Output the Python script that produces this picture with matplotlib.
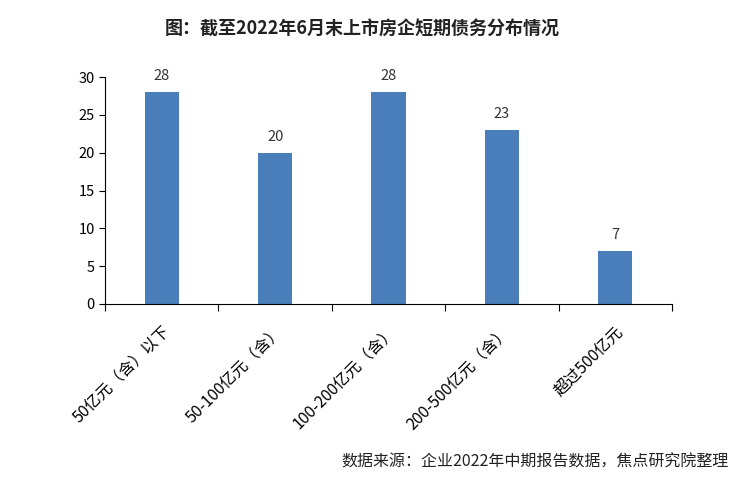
import matplotlib.pyplot as plt
import numpy as np

plt.rcParams['font.family'] = ['Noto Sans CJK SC', 'DejaVu Sans']

# data
categories = ['50亿元（含）以下', '50-100亿元（含）', '100-200亿元（含）', '200-500亿元（含）', '超过500亿元']
counts = [28, 20, 28, 23, 7]

fig = plt.figure(figsize=(7.4, 4.91), dpi=100)
ax = fig.add_axes([0.142, 0.381, 0.766, 0.462])

x = np.arange(len(categories))
bars = ax.bar(x, counts, width=0.3, color='#4a7ebb')
for xi, v in zip(x, counts):
    ax.text(xi, v + 1.2, str(v), ha='center', va='bottom', fontsize=10.5, color='#333333')

ax.set_xlim(-0.5, len(categories) - 0.5)
ax.set_ylim(0, 30)
ax.set_yticks(range(0, 31, 5))
ax.tick_params(axis='y', labelsize=10.5, length=4, direction='out')
# x ticks sit on category boundaries
ax.set_xticks(np.arange(-0.5, len(categories), 1.0))
ax.set_xticklabels([])
ax.set_xticks(x, minor=True)
ax.set_xticklabels(categories, minor=True, rotation=45, ha='right', rotation_mode='anchor', fontsize=11.5)
ax.tick_params(axis='x', which='minor', length=0, pad=14)
ax.tick_params(axis='x', which='major', length=5)
ax.spines['top'].set_visible(False)
ax.spines['right'].set_visible(False)

fig.text(0.49, 0.94, '图：截至2022年6月末上市房企短期债务分布情况', ha='center', va='center',
         fontsize=13, fontweight='bold', color='#222222')
fig.text(0.985, 0.06, '数据来源：企业2022年中期报告数据，焦点研究院整理', ha='right', va='center',
         fontsize=11.5, color='#222222')

plt.savefig('out.png')
